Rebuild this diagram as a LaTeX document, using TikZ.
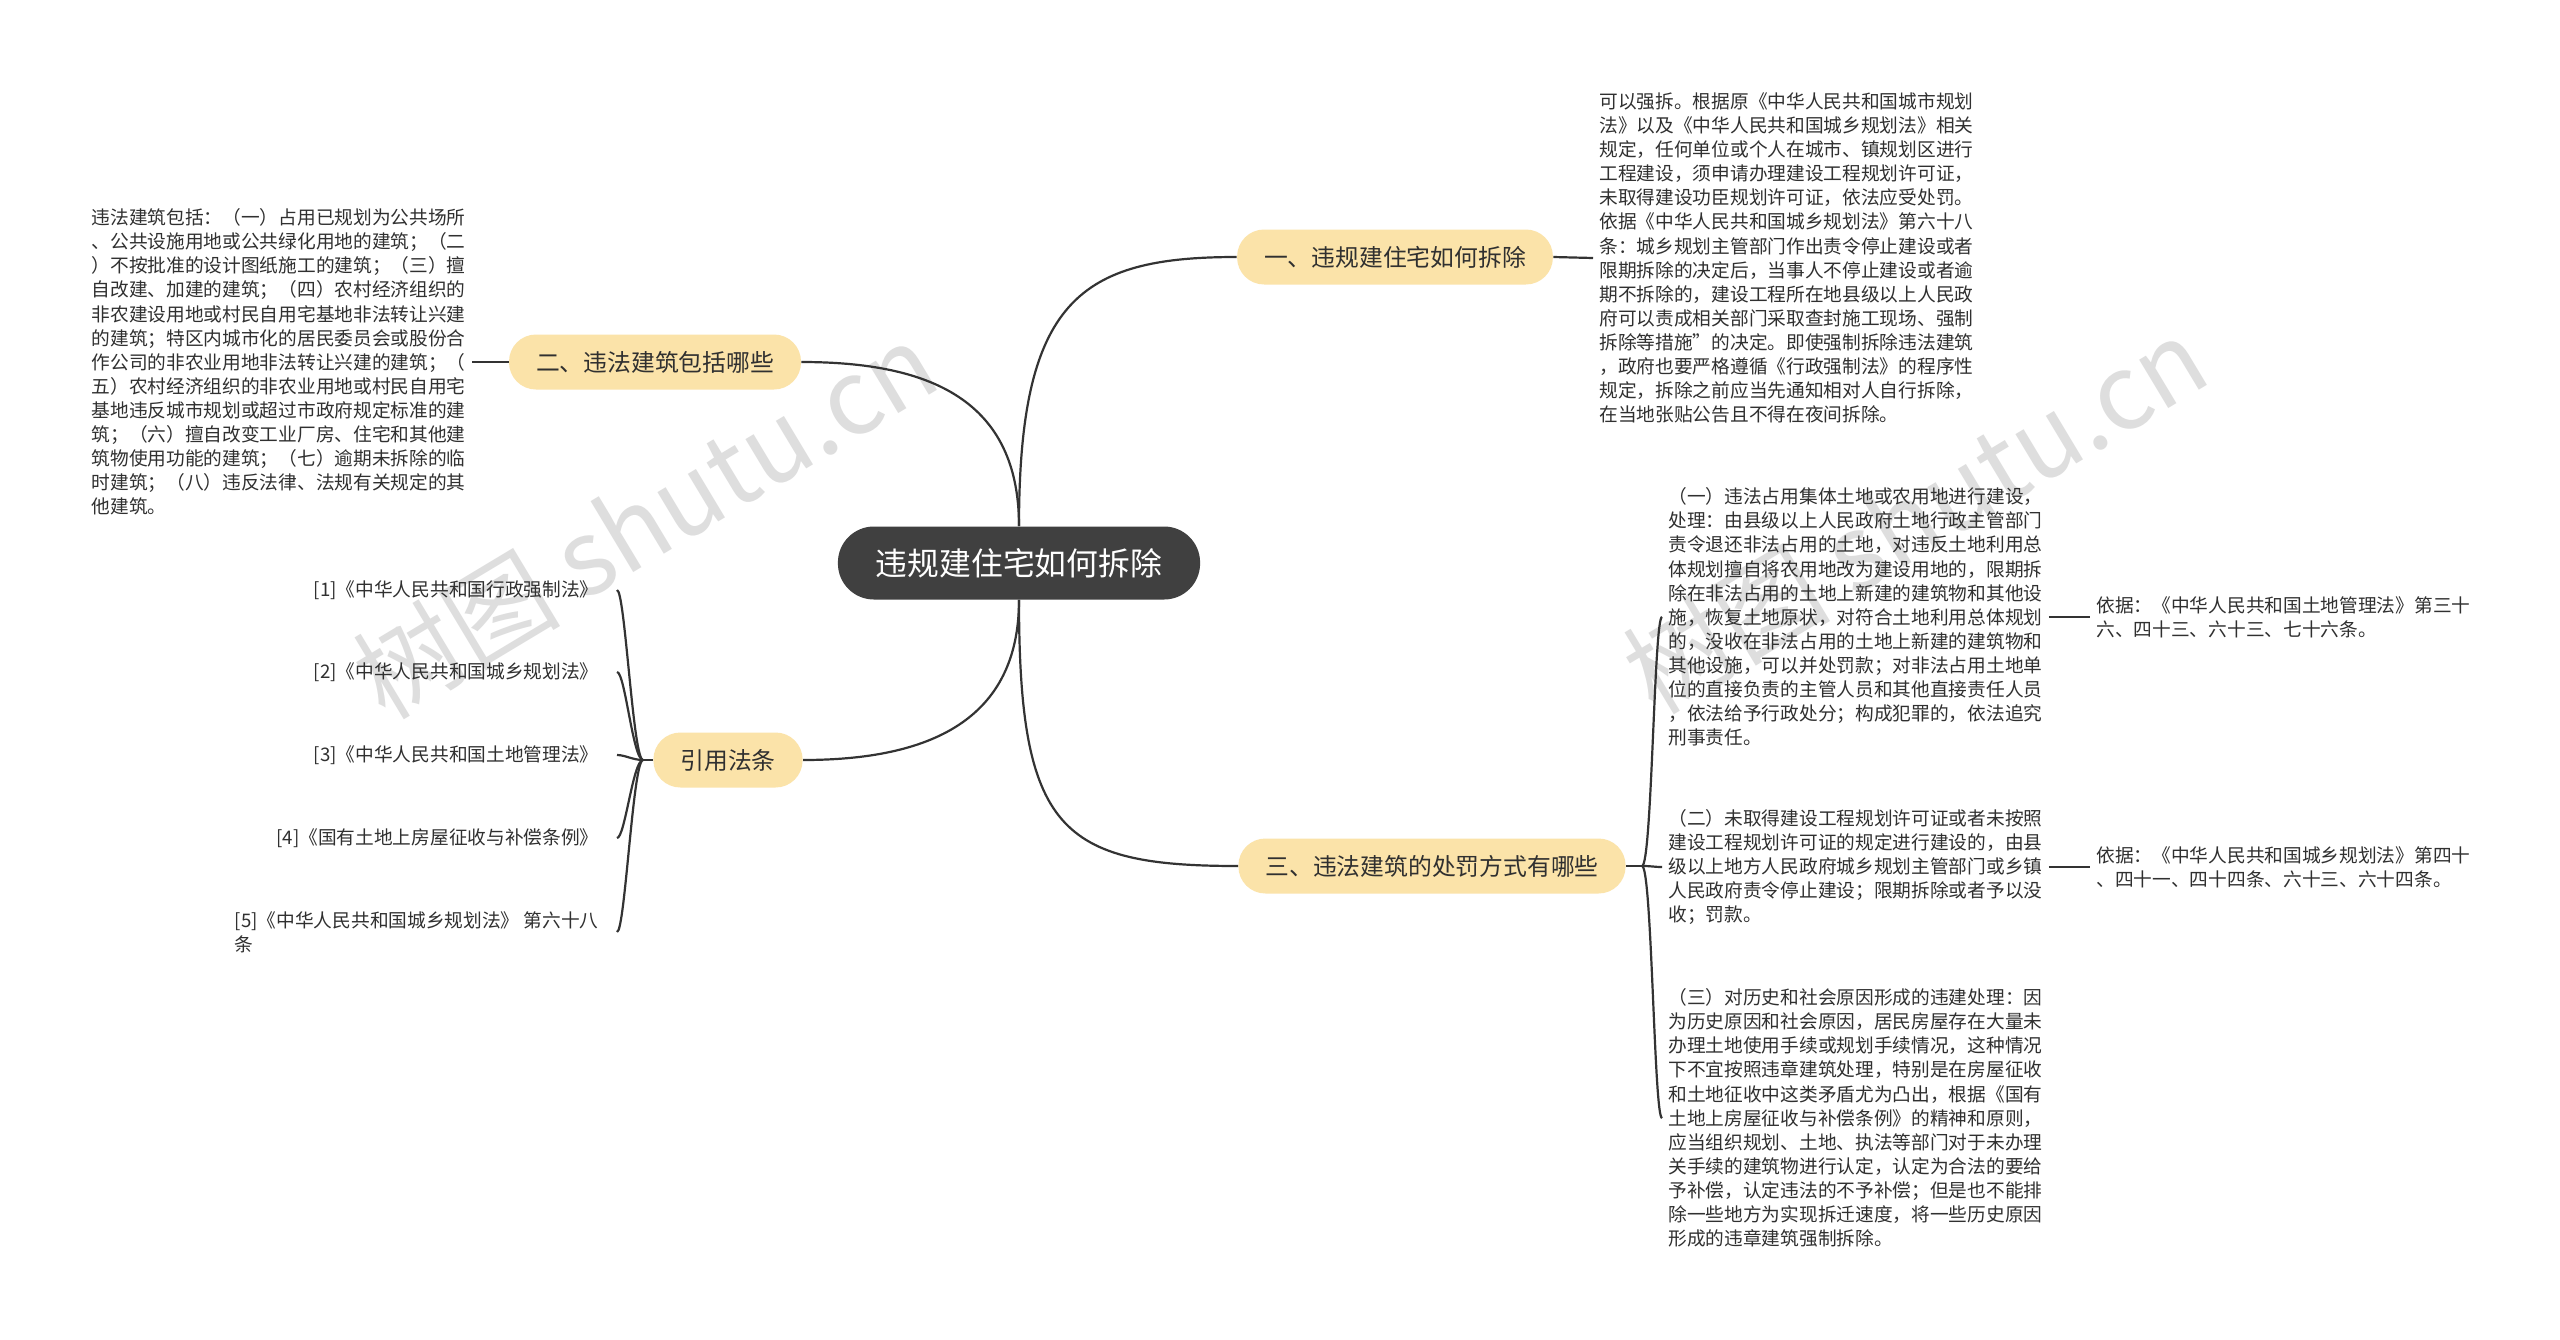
\documentclass[tikz,border=0pt]{standalone}
\usepackage{fontspec}
\setmainfont{Noto Sans CJK SC}

\definecolor{rootfill}{HTML}{404040}
\definecolor{topicfill}{HTML}{FBE3A9}
\definecolor{linedark}{HTML}{333333}
\definecolor{textdark}{HTML}{303030}
\definecolor{markgray}{HTML}{DEDEDE}

\tikzset{
  rootbox/.style={fill=rootfill, text=white, font=\fontsize{15.9}{18}\selectfont,
    rounded corners=18pt, minimum height=36.5pt, inner xsep=19pt, inner ysep=0pt},
  topicbox/.style={fill=topicfill, text=textdark, font=\fontsize{11.9}{14}\selectfont,
    rounded corners=13.5pt, minimum height=27.5pt, inner xsep=13.5pt, inner ysep=0pt},
  leaftext/.style={text=textdark, font=\fontsize{9.35}{12.05}\selectfont,
    align=left, inner xsep=3pt, inner ysep=2pt},
  reftext/.style={leaftext, inner xsep=9pt},
  link/.style={draw=linedark, line width=1.1pt},
  watermark/.style={text=markgray, font=\fontsize{52}{52}\selectfont, rotate=31}
}

\begin{document}
\begin{tikzpicture}[x=0.5pt, y=-0.5pt]
    % Kanvas
    \fill[white] (0,0) rectangle (2560,1339);
    \useasboundingbox (0,0) rectangle (2560,1339);

    % Tanda air
    \node[watermark] (wm1) at (645,520) {树图 shutu.cn};
    \node[watermark] (wm2) at (1915,515) {树图 shutu.cn};

    % Pusat dan cabang
    \node[rootbox] (root) at (1019,563) {违规建住宅如何拆除};
    \node[topicbox] (b1) at (1395,257) {一、违规建住宅如何拆除};
    \node[topicbox] (b2) at (655,362) {二、违法建筑包括哪些};
    \node[topicbox] (b3) at (1432,866) {三、违法建筑的处罚方式有哪些};
    \node[topicbox] (b4) at (728,760) {引用法条};

    \draw[link] (root.north) .. controls (1019,300) and (1080,257) .. (b1.west);
    \draw[link] (root.north) .. controls (1019,400) and (930,362) .. (b2.east);
    \draw[link] (root.south) .. controls (1019,830) and (1060,866) .. (b3.west);
    \draw[link] (root.south) .. controls (1019,720) and (930,760) .. (b4.east);

    % Cabang satu
    \node[leaftext, anchor=west] (t1) at (1593,258) {可以强拆。根据原《中华人民共和国城市规划\\
法》以及《中华人民共和国城乡规划法》相关\\
规定，任何单位或个人在城市、镇规划区进行\\
工程建设，须申请办理建设工程规划许可证，\\
未取得建设功臣规划许可证，依法应受处罚。\\
依据《中华人民共和国城乡规划法》第六十八\\
条：城乡规划主管部门作出责令停止建设或者\\
限期拆除的决定后，当事人不停止建设或者逾\\
期不拆除的，建设工程所在地县级以上人民政\\
府可以责成相关部门采取查封施工现场、强制\\
拆除等措施”的决定。即使强制拆除违法建筑\\
，政府也要严格遵循《行政强制法》的程序性\\
规定，拆除之前应当先通知相对人自行拆除，\\
在当地张贴公告且不得在夜间拆除。};
    \draw[link] (b1.east) -- (t1.west);

    % Cabang dua
    \node[leaftext, anchor=east] (t2) at (472,362) {违法建筑包括：（一）占用已规划为公共场所\\
、公共设施用地或公共绿化用地的建筑；（二\\
）不按批准的设计图纸施工的建筑；（三）擅\\
自改建、加建的建筑；（四）农村经济组织的\\
非农建设用地或村民自用宅基地非法转让兴建\\
的建筑；特区内城市化的居民委员会或股份合\\
作公司的非农业用地非法转让兴建的建筑；（\\
五）农村经济组织的非农业用地或村民自用宅\\
基地违反城市规划或超过市政府规定标准的建\\
筑；（六）擅自改变工业厂房、住宅和其他建\\
筑物使用功能的建筑；（七）逾期未拆除的临\\
时建筑；（八）违反法律、法规有关规定的其\\
他建筑。};
    \draw[link] (b2.west) -- (t2.east);

    % Cabang tiga
    \node[leaftext, anchor=west] (p1) at (1662,617) {（一）违法占用集体土地或农用地进行建设，\\
处理：由县级以上人民政府土地行政主管部门\\
责令退还非法占用的土地，对违反土地利用总\\
体规划擅自将农用地改为建设用地的，限期拆\\
除在非法占用的土地上新建的建筑物和其他设\\
施，恢复土地原状，对符合土地利用总体规划\\
的，没收在非法占用的土地上新建的建筑物和\\
其他设施，可以并处罚款；对非法占用土地单\\
位的直接负责的主管人员和其他直接责任人员\\
，依法给予行政处分；构成犯罪的，依法追究\\
刑事责任。};
    \node[leaftext, anchor=west] (p2) at (1662,867) {（二）未取得建设工程规划许可证或者未按照\\
建设工程规划许可证的规定进行建设的，由县\\
级以上地方人民政府城乡规划主管部门或乡镇\\
人民政府责令停止建设；限期拆除或者予以没\\
收；罚款。};
    \node[leaftext, anchor=west] (p3) at (1662,1118) {（三）对历史和社会原因形成的违建处理：因\\
为历史原因和社会原因，居民房屋存在大量未\\
办理土地使用手续或规划手续情况，这种情况\\
下不宜按照违章建筑处理，特别是在房屋征收\\
和土地征收中这类矛盾尤为凸出，根据《国有\\
土地上房屋征收与补偿条例》的精神和原则，\\
应当组织规划、土地、执法等部门对于未办理\\
关手续的建筑物进行认定，认定为合法的要给\\
予补偿，认定违法的不予补偿；但是也不能排\\
除一些地方为实现拆迁速度，将一些历史原因\\
形成的违章建筑强制拆除。};
    \coordinate (j3) at (1642,866);
    \draw[link] (b3.east) -- (j3);
    \foreach \n in {p1,p2,p3}
        \draw[link] (j3) .. controls +(10,0) and +(-8,0) .. (\n.west);

    \node[leaftext, anchor=west] (g1) at (2090,617) {依据：《中华人民共和国土地管理法》第三十\\
六、四十三、六十三、七十六条。};
    \node[leaftext, anchor=west] (g2) at (2090,867) {依据：《中华人民共和国城乡规划法》第四十\\
、四十一、四十四条、六十三、六十四条。};
    \draw[link] (p1.east) -- (g1.west);
    \draw[link] (p2.east) -- (g2.west);

    % Pasal yang dikutip
    \foreach \i/\y/\t in {1/590/{[1]《中华人民共和国行政强制法》},
                          2/672/{[2]《中华人民共和国城乡规划法》},
                          3/755/{[3]《中华人民共和国土地管理法》},
                          4/838/{[4]《国有土地上房屋征收与补偿条例》}}
        \node[reftext, anchor=east] (r\i) at (617,\y) {\t};
    \node[reftext, anchor=east] (r5) at (617,932) {[5]《中华人民共和国城乡规划法》 第六十八\\条};
    \coordinate (j4) at (643,760);
    \draw[link] (b4.west) -- (j4);
    \foreach \i in {1,...,5}
        \draw[link] (j4) .. controls +(-10,0) and +(8,0) .. (r\i.east);
\end{tikzpicture}
\end{document}
